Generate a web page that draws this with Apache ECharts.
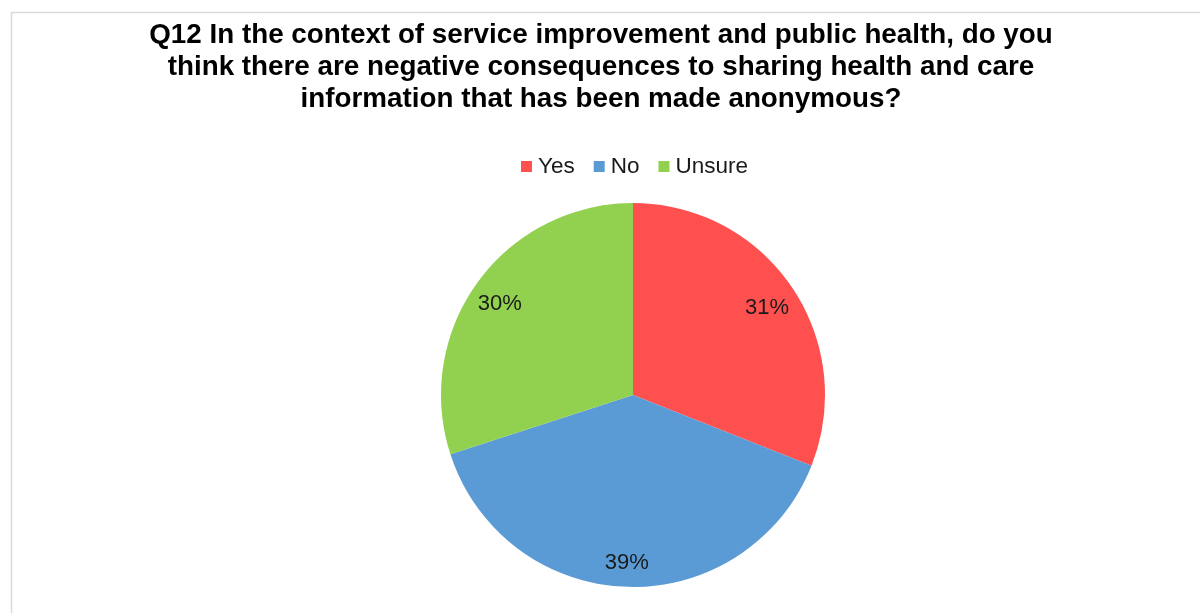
<!DOCTYPE html>
<html>
<head>
<meta charset="utf-8">
<script src="https://cdn.jsdelivr.net/npm/echarts@6/dist/echarts.min.js"></script>
<style>
  html, body { margin: 0; padding: 0; background: #ffffff; }
  #chart { width: 1200px; height: 613px; }
</style>
</head>
<body>
<div id="chart"></div>
<script>
// Survey answers for Q12 (percent of respondents)
const categories = ['Yes', 'No', 'Unsure'];
const shares = [31, 39, 30];
const sliceColors = ['#FF5050', '#5B9BD5', '#92D050'];
const titleText = 'Q12 In the context of service improvement and public health, do you\nthink there are negative consequences to sharing health and care\ninformation that has been made anonymous?';

const pieData = categories.map((name, i) => ({
  name: name,
  value: shares[i],
  itemStyle: { color: sliceColors[i] }
}));

const chart = echarts.init(document.getElementById('chart'), null, { renderer: 'canvas' });

const center = [633, 395];
const radius = 192;

chart.setOption({
  backgroundColor: '#ffffff',
  animation: false,
  graphic: [{
    type: 'rect',
    shape: { x: 11.5, y: 12.5, width: 1200, height: 700 },
    style: { fill: 'none', stroke: '#d9d9d9', lineWidth: 1.5 },
    silent: true
  }],
  title: {
    text: titleText,
    left: 596,
    textAlign: 'center',
    top: 14,
    textStyle: {
      fontFamily: 'Liberation Sans, Arial, sans-serif',
      fontWeight: 'bold',
      fontSize: 27.8,
      lineHeight: 32,
      color: '#000000'
    }
  },
  legend: {
    data: categories,
    left: 516,
    top: 150,
    icon: 'rect',
    itemWidth: 11,
    itemHeight: 11,
    itemGap: 19,
    selectedMode: false,
    textStyle: {
      fontFamily: 'Liberation Sans, Arial, sans-serif',
      fontSize: 22.5,
      color: '#1a1a1a',
      padding: [0, 0, 0, 1]
    }
  },
  series: [
    {
      name: 'Q12',
      type: 'pie',
      center: center,
      radius: [0, radius],
      startAngle: 90,
      clockwise: true,
      silent: true,
      label: { show: false },
      labelLine: { show: false },
      itemStyle: { borderWidth: 0 },
      data: pieData
    },
    {
      // transparent ring that carries the percentage labels near the rim
      name: 'labels',
      type: 'pie',
      center: center,
      radius: [radius * 0.67, radius],
      startAngle: 90,
      clockwise: true,
      silent: true,
      itemStyle: { color: 'rgba(0,0,0,0)', borderWidth: 0 },
      label: {
        show: true,
        position: 'inside',
        offset: [-1, 5],
        formatter: p => p.value + '%',
        fontFamily: 'Liberation Sans, Arial, sans-serif',
        fontSize: 22,
        color: '#1a1a1a'
      },
      labelLine: { show: false },
      data: categories.map((name, i) => ({ name: name, value: shares[i] }))
    }
  ]
});
</script>
</body>
</html>
